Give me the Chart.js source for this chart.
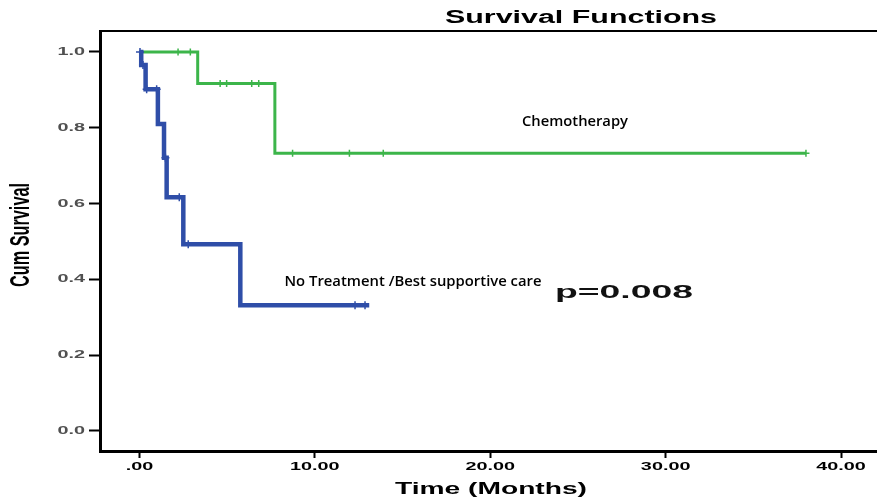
<!DOCTYPE html>
<html>
<head>
<meta charset="utf-8">
<script src="https://cdn.jsdelivr.net/npm/chart.js@4.4.1/dist/chart.umd.min.js"></script>
<style>
    body { margin: 0; background: #fff; }
    canvas { display: block; }
</style>
</head>
<body>
<canvas id="survivalChart" width="877" height="499"></canvas>
<script>
// Kaplan-Meier steps (time in months, cumulative survival)
const noTreatmentTimes = [0, 0.1, 0.35, 1.05, 1.4, 1.55, 2.5, 5.75, 13.1];
const noTreatmentSurvival = [1.0, 0.966, 0.902, 0.81, 0.721, 0.617, 0.493, 0.332, 0.332];
const noTreatmentCensorTimes = [0.03, 0.2, 0.41, 0.98, 1.48, 2.27, 2.78, 12.29, 12.86];
const noTreatmentCensorSurvival = [1.0, 0.966, 0.902, 0.902, 0.721, 0.617, 0.493, 0.332, 0.332];

const chemoTimes = [0, 3.32, 7.72, 38.0];
const chemoSurvival = [1.0, 0.917, 0.733, 0.733];
const chemoCensorTimes = [2.2, 2.9, 4.6, 4.97, 6.4, 6.8, 8.73, 11.97, 13.9, 38.0];
const chemoCensorSurvival = [1.0, 1.0, 0.917, 0.917, 0.917, 0.917, 0.733, 0.733, 0.733, 0.733];

const xTickValues = [0, 10, 20, 30, 40];
const yTickValues = [0, 0.2, 0.4, 0.6, 0.8, 1.0];

const chartTitle = 'Survival Functions';
const xAxisTitle = 'Time (Months)';
const yAxisTitle = 'Cum Survival';
const chemoLabel = 'Chemotherapy';
const noTreatmentLabel = 'No Treatment /Best supportive care';
const pValueLabel = 'p=0.008';

const blue = '#2f4ea8';
const green = '#3cb54a';

function toPoints(xs, ys) {
    return xs.map((x, i) => ({ x: x, y: ys[i] }));
}

// the original picture is stretched sideways, so text gets a horizontal scale
function drawText(ctx, text, x, y, font, opts) {
    opts = opts || {};
    ctx.save();
    ctx.font = font;
    let sx = opts.sx || 1;
    if (opts.width) {
        sx = opts.width / ctx.measureText(text).width;
    }
    ctx.translate(x, y);
    if (opts.angle) ctx.rotate(opts.angle);
    ctx.scale(sx, opts.sy || 1);
    ctx.fillStyle = opts.color || '#000';
    ctx.textAlign = opts.align || 'center';
    ctx.textBaseline = 'middle';
    ctx.fillText(text, 0, 0);
    ctx.restore();
}

const overlayText = {
    id: 'overlayText',
    afterDraw(chart) {
        const ctx = chart.ctx;
        const area = chart.chartArea;
        const xScale = chart.scales.x;
        const yScale = chart.scales.y;

        // top frame line
        ctx.save();
        ctx.strokeStyle = '#000';
        ctx.lineWidth = 2;
        ctx.beginPath();
        ctx.moveTo(area.left, area.top);
        ctx.lineTo(area.right, area.top);
        ctx.stroke();
        ctx.restore();

        xScale.ticks.forEach(t => {
            drawText(ctx, t.label, xScale.getPixelForValue(t.value), 467,
                'bold 11px "Liberation Sans"', { sx: 1.8 });
        });
        yScale.ticks.forEach(t => {
            drawText(ctx, t.label, 85, yScale.getPixelForValue(t.value),
                'bold 11px "Liberation Sans"', { sx: 1.8, align: 'right', color: '#505050' });
        });

        drawText(ctx, chartTitle, 581, 18, 'bold 18px "Liberation Sans"', { width: 272 });
        drawText(ctx, xAxisTitle, 491, 490, 'bold 16px "Liberation Sans"', { width: 192 });
        drawText(ctx, yAxisTitle, 22, 235, 'bold 16px "Liberation Sans"',
            { width: 104, sy: 1.7, angle: -Math.PI / 2 });

        drawText(ctx, chemoLabel, 575, 122, '600 15px "Open Sans"', { width: 106 });
        drawText(ctx, noTreatmentLabel, 413, 282, '600 15px "Open Sans"', { width: 257 });
        drawText(ctx, pValueLabel, 624, 293, 'bold 18px "Liberation Sans"', { width: 138, sy: 1.05, color: '#111' });
    }
};

const ctx = document.getElementById('survivalChart').getContext('2d');
new Chart(ctx, {
    type: 'line',
    data: {
        datasets: [
            {
                label: noTreatmentLabel,
                data: toPoints(noTreatmentTimes, noTreatmentSurvival),
                stepped: true,
                borderColor: blue,
                borderWidth: 4.5,
                pointRadius: 0,
                fill: false
            },
            {
                label: noTreatmentLabel + ' censored',
                data: toPoints(noTreatmentCensorTimes, noTreatmentCensorSurvival),
                showLine: false,
                pointStyle: 'cross',
                pointRadius: 4,
                pointBorderWidth: 1.5,
                pointBorderColor: blue
            },
            {
                label: chemoLabel,
                data: toPoints(chemoTimes, chemoSurvival),
                stepped: true,
                borderColor: green,
                borderWidth: 3,
                pointRadius: 0,
                fill: false
            },
            {
                label: chemoLabel + ' censored',
                data: toPoints(chemoCensorTimes, chemoCensorSurvival),
                showLine: false,
                pointStyle: 'cross',
                pointRadius: 3.5,
                pointBorderWidth: 1.5,
                pointBorderColor: green
            }
        ]
    },
    options: {
        responsive: false,
        animation: false,
        layout: {
            autoPadding: false,
            padding: { top: 31, left: 0, right: 0, bottom: 0 }
        },
        scales: {
            x: {
                type: 'linear',
                min: -2.25,
                max: 42.05,
                afterBuildTicks: scale => {
                    scale.ticks = xTickValues.map(v => ({ value: v }));
                },
                afterFit: scale => { scale.height = 48; },
                ticks: {
                    display: false,
                    callback: v => (v === 0 ? '.00' : v.toFixed(2))
                },
                grid: {
                    drawOnChartArea: false,
                    drawTicks: true,
                    tickLength: 7,
                    tickWidth: 2,
                    tickColor: '#000'
                },
                border: { color: '#000', width: 3 }
            },
            y: {
                min: -0.0528,
                max: 1.0554,
                afterBuildTicks: scale => {
                    scale.ticks = yTickValues.map(v => ({ value: v }));
                },
                afterFit: scale => { scale.width = 100; },
                ticks: {
                    display: false,
                    callback: v => v.toFixed(1)
                },
                grid: {
                    drawOnChartArea: false,
                    drawTicks: true,
                    tickLength: 11,
                    tickWidth: 2,
                    tickColor: '#000'
                },
                border: { color: '#000', width: 3 }
            }
        },
        plugins: {
            legend: { display: false },
            tooltip: { enabled: false }
        }
    },
    plugins: [overlayText]
});
</script>
</body>
</html>
